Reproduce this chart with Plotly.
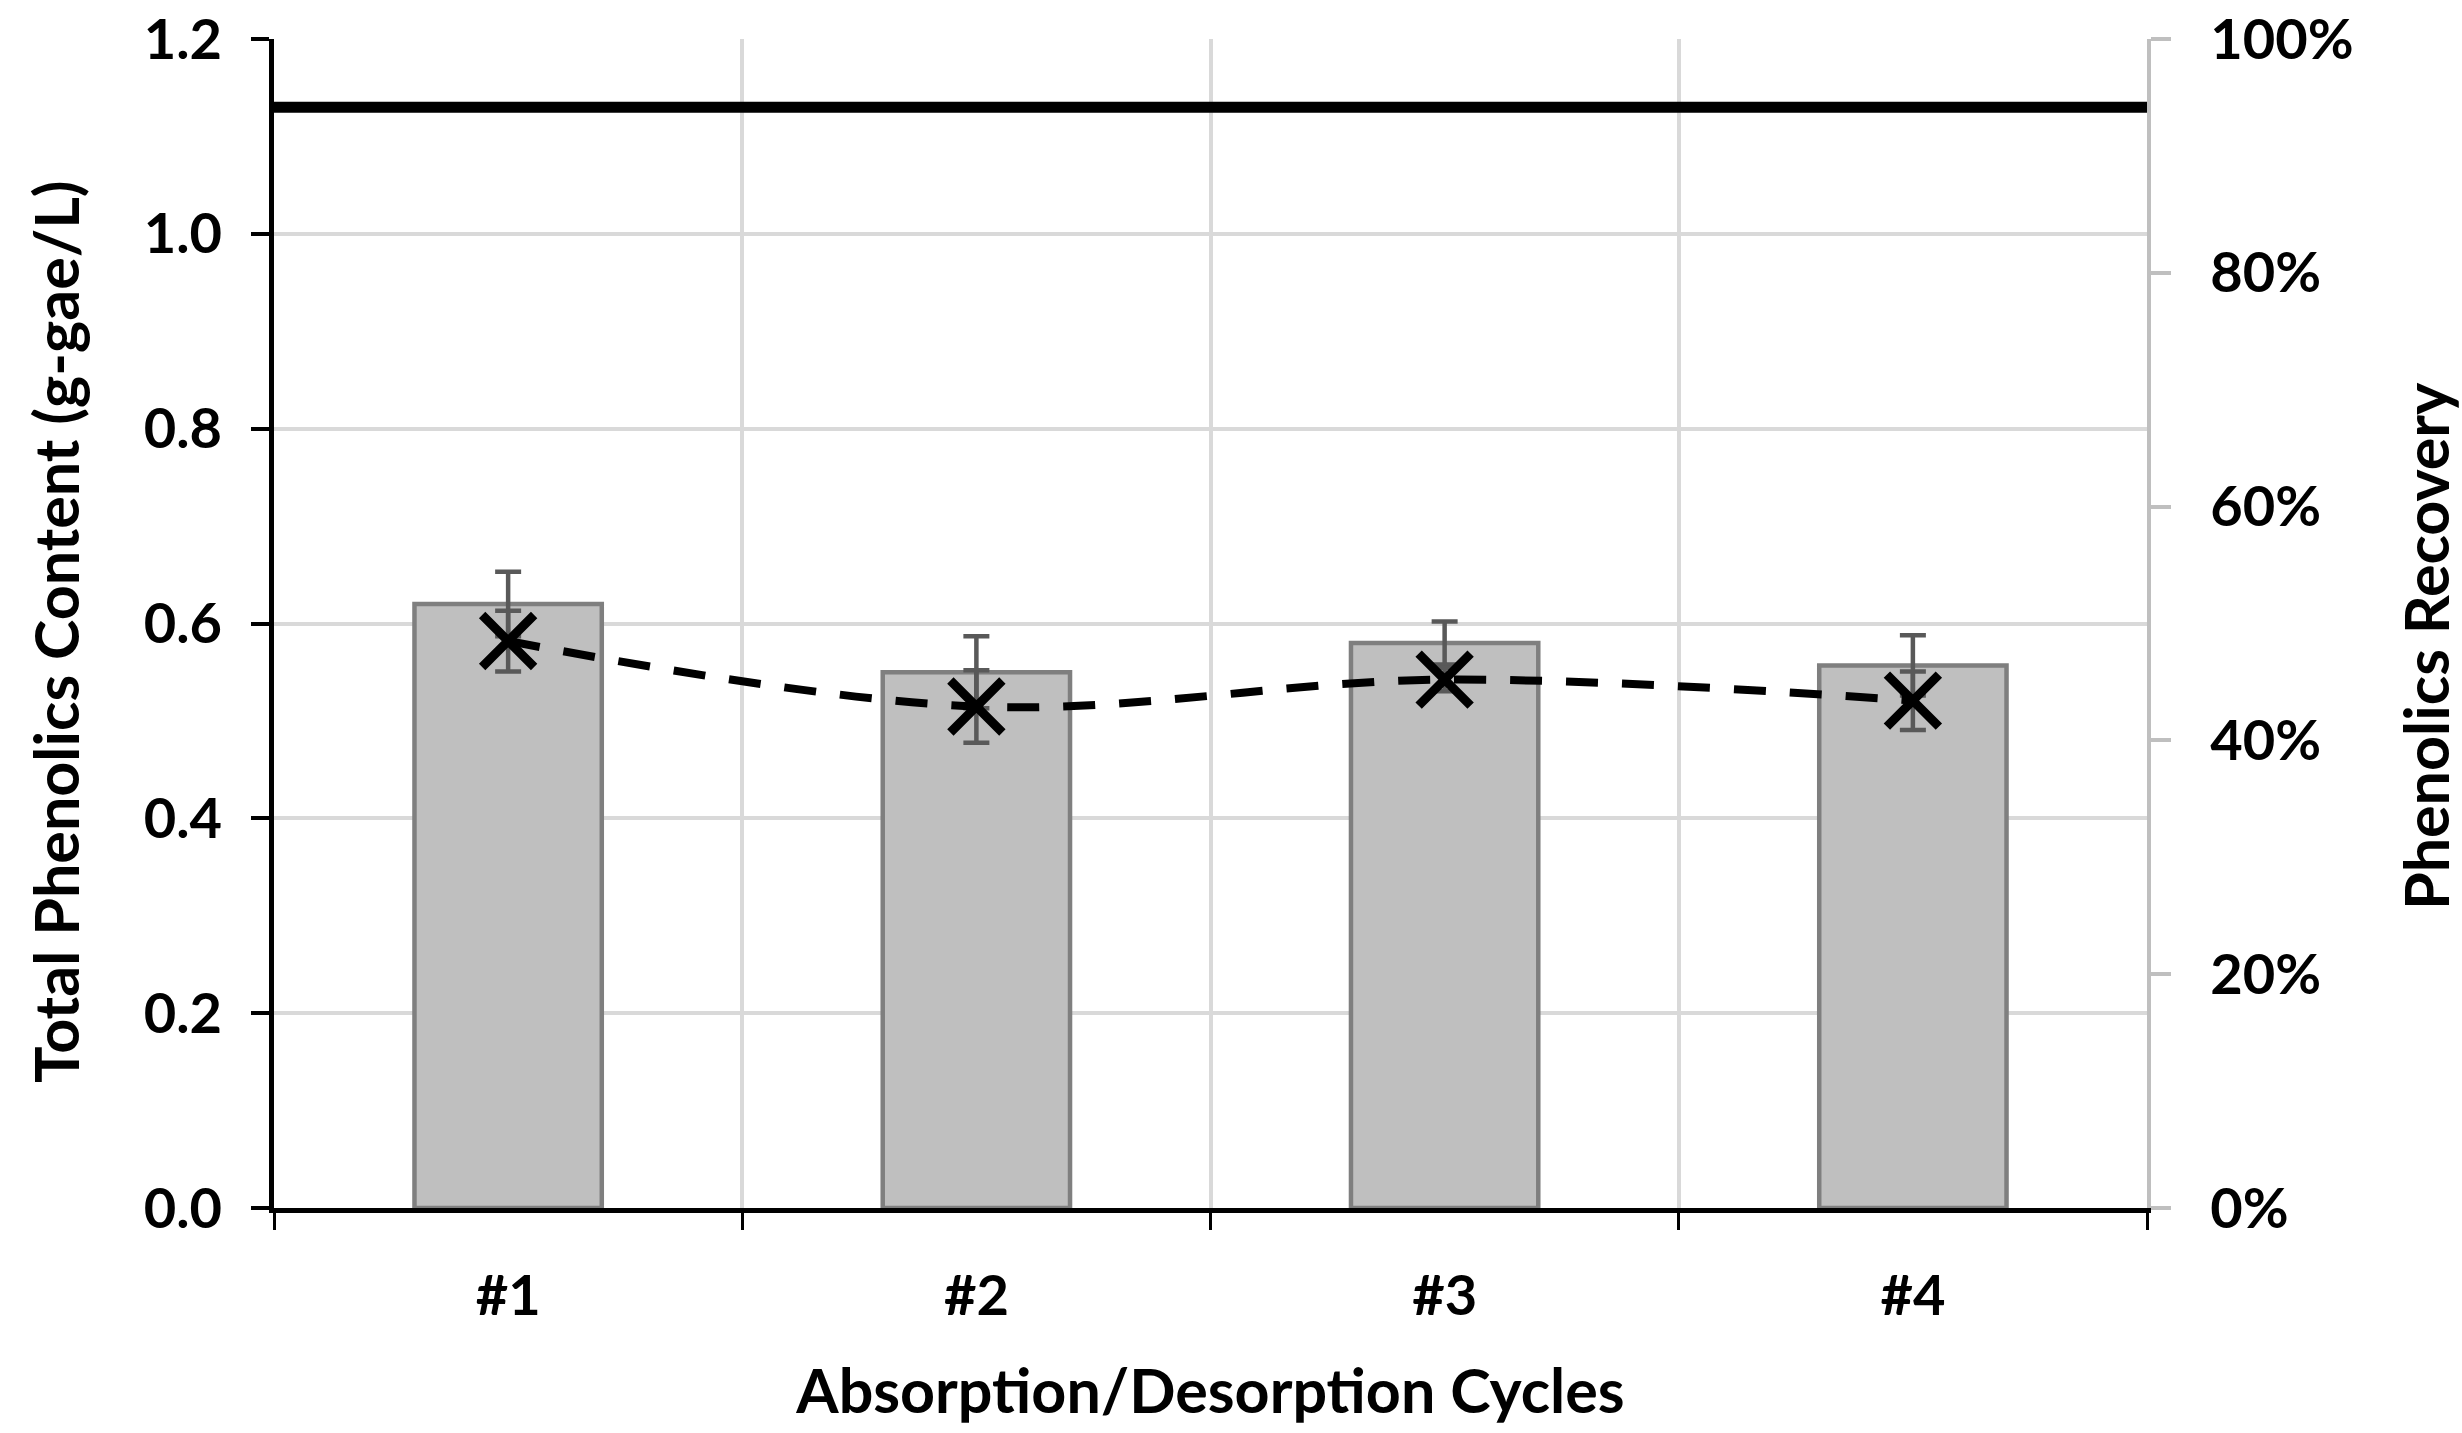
import plotly.graph_objects as go

# ---- data ----
cycles = ["#1", "#2", "#3", "#4"]
tpc = [0.620, 0.550, 0.580, 0.557]            # Total phenolics content (g-gae/L)
tpc_err = [0.033, 0.037, 0.022, 0.031]
recovery = [0.485, 0.429, 0.452, 0.434]       # Phenolics recovery (fraction)
recovery_err = [0.026, 0.031, 0.010, 0.025]
initial_tpc = [1.13, 1.13]                    # feed level line (g-gae/L)
line_span = [0, 1]

y_title_left = "Total Phenolics Content (g-gae/L)"
y_title_right = "Phenolics Recovery"
x_title = "Absorption/Desorption Cycles"

FONT = "Lato"

fig = go.Figure()

fig.add_trace(go.Bar(
    x=cycles, y=tpc, width=0.4,
    marker=dict(color="#bfbfbf", line=dict(color="#7f7f7f", width=4.5)),
    error_y=dict(type="data", array=tpc_err, visible=True,
                 color="#595959", thickness=4.5, width=13),
    showlegend=False,
))

fig.add_trace(go.Scatter(
    x=cycles, y=recovery, yaxis="y2",
    mode="lines+markers",
    line=dict(color="black", width=8, dash="32px,24px", shape="spline"),
    marker=dict(symbol="x-thin", size=52, color="black",
                line=dict(color="black", width=9)),
    error_y=dict(type="data", array=recovery_err, visible=True,
                 color="#595959", thickness=4.5, width=13),
    showlegend=False,
))

fig.add_trace(go.Scatter(
    x=line_span, y=initial_tpc, xaxis="x2", yaxis="y",
    mode="lines", line=dict(color="black", width=11),
    showlegend=False, hoverinfo="skip",
))

tickfont = dict(family=FONT, size=56, color="black", weight="bold")
titlefont = dict(family=FONT, size=61, color="black", weight="bold")

fig.update_layout(
    width=2462, height=1433,
    margin=dict(l=274, r=315, t=39, b=225, autoexpand=False),
    paper_bgcolor="white", plot_bgcolor="white",
    xaxis=dict(
        type="category", categoryorder="array", categoryarray=cycles,
        tickson="boundaries", ticks="outside", ticklen=17, tickwidth=3,
        tickcolor="black", showline=True, linecolor="black", linewidth=5,
        showgrid=True, gridcolor="#d9d9d9", gridwidth=4, automargin=False,
        tickfont=tickfont, ticklabelstandoff=35,
        title=dict(text=x_title, font=titlefont, standoff=46),
    ),
    xaxis2=dict(overlaying="x", range=[0, 1], visible=False, automargin=False),
    yaxis=dict(
        range=[0, 1.2], dtick=0.2, tickformat=".1f",
        ticks="outside", ticklen=18, tickwidth=4, tickcolor="black",
        showline=True, linecolor="black", linewidth=4.5,
        showgrid=True, gridcolor="#d9d9d9", gridwidth=4, zeroline=False,
        automargin=False,
        tickfont=tickfont, ticklabelstandoff=18, ticklabeloverflow="allow",
    ),
    yaxis2=dict(
        overlaying="y", side="right", range=[0, 1], dtick=0.2, tickformat=".0%",
        ticks="outside", ticklen=20, tickwidth=4, tickcolor="#bfbfbf",
        showline=True, linecolor="#bfbfbf", linewidth=4,
        showgrid=False, zeroline=False, automargin=False,
        tickfont=tickfont, ticklabelstandoff=28, ticklabeloverflow="allow",
    ),
    annotations=[
        dict(text=y_title_left, textangle=-90, font=titlefont, showarrow=False,
             xref="paper", yref="paper", x=-0.1169, y=0.4927,
             xanchor="center", yanchor="middle"),
        dict(text=y_title_right, textangle=-90, font=titlefont, showarrow=False,
             xref="paper", yref="paper", x=1.1490, y=0.4808,
             xanchor="center", yanchor="middle"),
    ],
)

fig.write_html(
    "out.html",
    config={"displayModeBar": False},
    post_script="document.body.style.margin='0';document.body.style.overflow='hidden';",
)
